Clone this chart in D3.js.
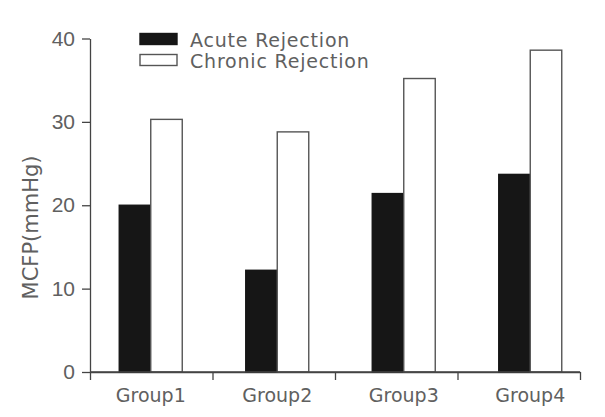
<!DOCTYPE html>
<html>
<head>
<meta charset="utf-8">
<script src="https://cdn.jsdelivr.net/npm/d3@7/dist/d3.min.js"></script>
<style>
  html, body { margin: 0; padding: 0; background: #fff; }
  svg { display: block; }
</style>
</head>
<body>
<svg id="chart" width="605" height="417"></svg>
<script>
const categories = ["Group1", "Group2", "Group3", "Group4"];
const seriesNames = ["Acute Rejection", "Chronic Rejection"];
const acute = [20.0, 12.2, 21.4, 23.7];
const chronic = [30.3, 28.8, 35.2, 38.6];
const yTicks = [0, 10, 20, 30, 40];
const yLabel = "MCFP(mmHg)";

const svg = d3.select("#chart");
const font = "'DejaVu Sans', sans-serif";
const tickFont = "'Liberation Sans', Arial, sans-serif";
const textColor = "#606060";
const axisColor = "#444";

const y = d3.scaleLinear().domain([0, 40]).range([372, 38.5]);
// tick boundaries of the category axis
const xTicks = d3.scaleLinear().domain([0, categories.length]).range([90, 580]);
// bar groups (slightly wider spacing than the axis ticks in the original)
const xBand = d3.scaleBand().domain(categories).range([87.5, 593.5]).paddingInner(0).paddingOuter(0);
const xSeries = d3.scaleBand().domain(seriesNames).range([0, 63]).padding(0);
const groupOffset = (xBand.bandwidth() - 63) / 2;

// Y axis
const yAxis = svg.append("g")
  .attr("transform", "translate(90,0)")
  .call(d3.axisLeft(y).tickValues(yTicks).tickSize(8).tickPadding(7).tickSizeOuter(0));
yAxis.select(".domain").attr("stroke", axisColor).attr("stroke-width", 1.3);
yAxis.selectAll(".tick line").attr("stroke", axisColor).attr("stroke-width", 1.3);
yAxis.selectAll(".tick text").attr("font-family", tickFont).attr("font-size", 21).attr("fill", textColor);

// X axis (ticks at group boundaries, no labels)
const xAxis = svg.append("g")
  .attr("transform", "translate(0,372)")
  .call(d3.axisBottom(xTicks).tickValues(d3.range(categories.length + 1)).tickSize(8).tickSizeOuter(0).tickFormat(""));
xAxis.select(".domain").attr("stroke", axisColor).attr("stroke-width", 1.3);
xAxis.selectAll(".tick line").attr("stroke", axisColor).attr("stroke-width", 1.3);

// Category labels
svg.append("g").selectAll("text").data(categories).join("text")
  .attr("x", d => xBand(d) + xBand.bandwidth() / 2)
  .attr("y", 402)
  .attr("text-anchor", "middle")
  .attr("font-family", font).attr("font-size", 19).attr("fill", textColor)
  .text(d => d);

// Bars
const rows = categories.map((c, i) => ({ c, vals: [acute[i], chronic[i]] }));
const groups = svg.append("g").selectAll("g").data(rows).join("g")
  .attr("transform", d => `translate(${xBand(d.c) + groupOffset},0)`);
groups.selectAll("rect").data(d => d.vals.map((v, j) => ({ v, s: seriesNames[j] }))).join("rect")
  .attr("x", d => xSeries(d.s))
  .attr("y", d => y(d.v))
  .attr("width", xSeries.bandwidth())
  .attr("height", d => y(0) - y(d.v))
  .attr("fill", d => d.s === seriesNames[0] ? "#161616" : "#ffffff")
  .attr("stroke", d => d.s === seriesNames[0] ? "#161616" : "#555")
  .attr("stroke-width", 1.4);

// redraw x axis line on top of bars
svg.append("line").attr("x1", 90).attr("x2", 580).attr("y1", 372).attr("y2", 372)
  .attr("stroke", axisColor).attr("stroke-width", 1.3);

// Y label
svg.append("text")
  .attr("transform", "translate(38,227.5) rotate(-90)")
  .attr("text-anchor", "middle")
  .attr("font-family", font).attr("font-size", 21).attr("fill", textColor)
  .text(yLabel);

// Legend
const legend = svg.append("g").selectAll("g").data(seriesNames).join("g")
  .attr("transform", (d, i) => `translate(140,${33.5 + i * 21})`);
legend.append("rect")
  .attr("width", 37).attr("height", 11)
  .attr("fill", (d, i) => i === 0 ? "#161616" : "#fff")
  .attr("stroke", (d, i) => i === 0 ? "#161616" : "#555")
  .attr("stroke-width", 1.4);
legend.append("text")
  .attr("x", 50).attr("y", 13.5)
  .attr("font-family", font).attr("font-size", 19).attr("fill", textColor)
  .attr("letter-spacing", 0.8)
  .text(d => d);
</script>
</body>
</html>
